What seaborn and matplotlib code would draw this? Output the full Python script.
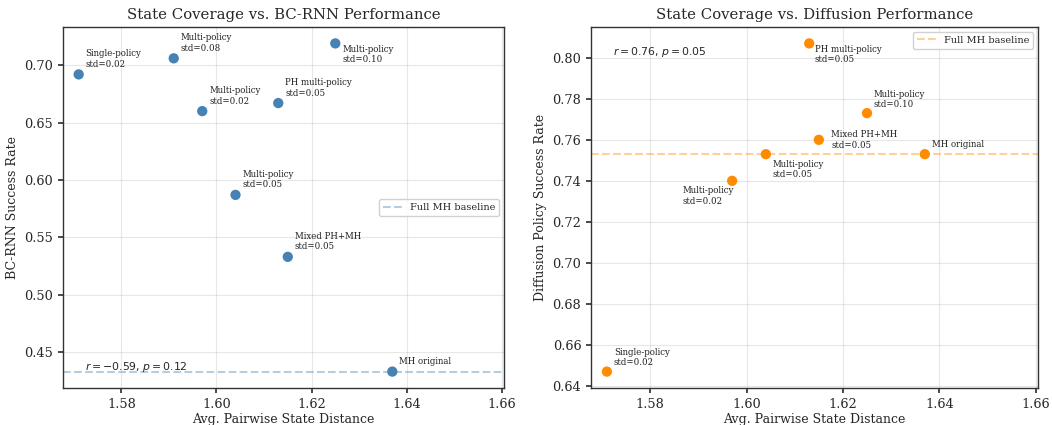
import matplotlib
matplotlib.use("Agg")
import matplotlib.pyplot as plt
import seaborn as sns
import pandas as pd

# ---- data ----
bc_labels = ["Single-policy\nstd=0.02", "Multi-policy\nstd=0.08", "Multi-policy\nstd=0.02",
             "Multi-policy\nstd=0.05", "PH multi-policy\nstd=0.05", "Mixed PH+MH\nstd=0.05",
             "Multi-policy\nstd=0.10", "MH original"]
bc_x = [1.571, 1.591, 1.597, 1.604, 1.613, 1.615, 1.625, 1.637]
bc_y = [0.692, 0.706, 0.660, 0.587, 0.667, 0.533, 0.719, 0.433]
bc_baseline = 0.433
bc_stats = "$r = -0.59$, $p = 0.12$"

dp_labels = ["Single-policy\nstd=0.02", "Multi-policy\nstd=0.02", "Multi-policy\nstd=0.05",
             "PH multi-policy\nstd=0.05", "Mixed PH+MH\nstd=0.05", "Multi-policy\nstd=0.10",
             "MH original"]
dp_x = [1.571, 1.597, 1.604, 1.613, 1.615, 1.625, 1.637]
dp_y = [0.647, 0.740, 0.753, 0.807, 0.760, 0.773, 0.753]
dp_baseline = 0.753
dp_stats = "$r = 0.76$, $p = 0.05$"

sns.set_theme(style="ticks")
plt.rcParams["font.family"] = ["DejaVu Serif"]
plt.rcParams["mathtext.fontset"] = "dejavusans"

fig = plt.figure(figsize=(10.52, 4.25), dpi=100)
ax1 = fig.add_axes([63/1052, 1-388/425, (504-63)/1052, 361/425])
ax2 = fig.add_axes([591/1052, 1-388/425, (1038-591)/1052, 361/425])

blue = "#4682B4"
orange = "#FF8C00"
ANN = 6.2

def style(ax):
    ax.grid(True, alpha=0.3, color="#b0b0b0", linewidth=0.8)
    for s in ax.spines.values():
        s.set_color("#333333")
        s.set_linewidth(1.0)
    ax.tick_params(labelsize=9.3, length=3.5, color="#333333")

# Left panel
df1 = pd.DataFrame({"x": bc_x, "y": bc_y, "label": bc_labels})
sns.scatterplot(data=df1, x="x", y="y", ax=ax1, color=blue, s=55, edgecolor="none", zorder=3)
ax1.axhline(bc_baseline, color=blue, alpha=0.4, linestyle="--", linewidth=1.5, label="Full MH baseline")
off1 = {"Multi-policy\nstd=0.10": (5, -8, "center")}
for _, r in df1.iterrows():
    dx, dy, va = off1.get(r["label"], (5, 4, "bottom"))
    ax1.annotate(r["label"], (r["x"], r["y"]), xytext=(dx, dy), textcoords="offset points",
                 fontsize=ANN, color="#222222", va=va, ha="left")
ax1.text(0.05, 0.05, bc_stats, transform=ax1.transAxes, fontsize=7.8, family="DejaVu Sans")
ax1.set_xlim(1.5677, 1.6605)
ax1.set_ylim(0.4187, 0.7333)
ax1.set_xlabel("Avg. Pairwise State Distance", fontsize=9, labelpad=2)
ax1.set_ylabel("BC-RNN Success Rate", fontsize=9)
ax1.set_title("State Coverage vs. BC-RNN Performance", fontsize=10.7)
ax1.legend(loc="center right", fontsize=7, framealpha=0.9)
style(ax1)

# Right panel
df2 = pd.DataFrame({"x": dp_x, "y": dp_y, "label": dp_labels})
sns.scatterplot(data=df2, x="x", y="y", ax=ax2, color=orange, s=55, edgecolor="none", zorder=3)
ax2.axhline(dp_baseline, color=orange, alpha=0.4, linestyle="--", linewidth=1.5, label="Full MH baseline")
off2 = {
    "PH multi-policy\nstd=0.05": (4, -8, "center"),
    "Multi-policy\nstd=0.02": (-36, -11, "center"),
    "Multi-policy\nstd=0.05": (5, -11, "center"),
    "Mixed PH+MH\nstd=0.05": (9, 0, "center"),
    "Multi-policy\nstd=0.10": (5, 3, "bottom"),
    "Single-policy\nstd=0.02": (5, 3, "bottom"),
}
for _, r in df2.iterrows():
    dx, dy, va = off2.get(r["label"], (5, 4, "bottom"))
    ax2.annotate(r["label"], (r["x"], r["y"]), xytext=(dx, dy), textcoords="offset points",
                 fontsize=ANN, color="#222222", va=va, ha="left")
ax2.text(0.05, 0.95, dp_stats, transform=ax2.transAxes, fontsize=7.8, family="DejaVu Sans", va="top")
ax2.set_xlim(1.5677, 1.6605)
ax2.set_ylim(0.639, 0.815)
ax2.set_xlabel("Avg. Pairwise State Distance", fontsize=9, labelpad=2)
ax2.set_ylabel("Diffusion Policy Success Rate", fontsize=9)
ax2.set_title("State Coverage vs. Diffusion Performance", fontsize=10.7)
ax2.legend(loc="upper right", fontsize=7, framealpha=0.9)
style(ax2)

fig.savefig("out.png", dpi=100)
